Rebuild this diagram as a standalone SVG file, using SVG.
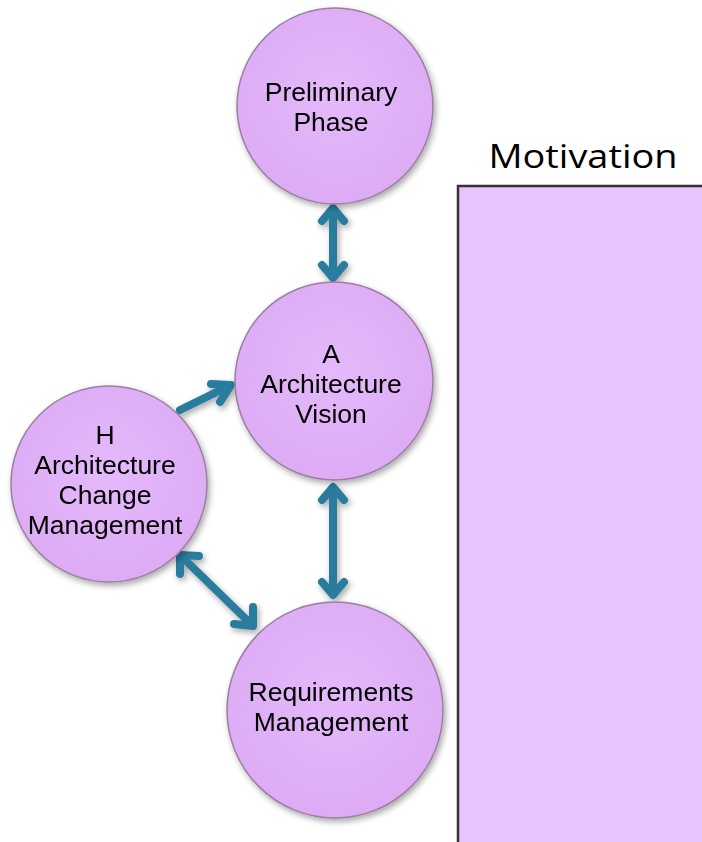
<svg xmlns="http://www.w3.org/2000/svg" width="702" height="842" viewBox="0 0 702 842">
<defs>
<radialGradient id="cg" cx="0.5" cy="0.45" r="0.6">
<stop offset="0" stop-color="#e4b9fa"/>
<stop offset="1" stop-color="#dcaaf4"/>
</radialGradient>
<filter id="sh" x="-20%" y="-20%" width="140%" height="140%">
<feGaussianBlur in="SourceAlpha" stdDeviation="3"/>
<feOffset dx="2" dy="3" result="b"/>
<feComponentTransfer><feFuncA type="linear" slope="0.35"/></feComponentTransfer>
<feMerge><feMergeNode/><feMergeNode in="SourceGraphic"/></feMerge>
</filter>
<style>
.node{fill:url(#cg);stroke:#9a7f9e;stroke-width:1.5;}
.lbl{font-family:"Liberation Sans",Arial,sans-serif;font-size:26.5px;fill:#000;text-anchor:middle;}
.con{fill:none;stroke:#2b7c9e;stroke-width:8;stroke-linecap:round;stroke-linejoin:round;}
</style>
</defs>
<rect width="702" height="842" fill="#ffffff"/>

<g id="motivation">
<text x="583" y="168" font-family="'Open Sans','Liberation Sans',sans-serif" font-size="33" fill="#000" text-anchor="middle" textLength="189" lengthAdjust="spacingAndGlyphs">Motivation</text>
<rect x="458" y="186" width="250" height="670" fill="#e8c4fe" stroke="#333" stroke-width="2.5"/>
</g>

<g id="connectors" filter="url(#sh)">
<g id="c-prelim-a">
<path class="con" d="M333 210 L333 276"/>
<path class="con" d="M322 221 L333 208 L344 221"/>
<path class="con" d="M322 265 L333 278 L344 265"/>
</g>
<g id="c-a-req">
<path class="con" d="M333 489 L333 593"/>
<path class="con" d="M322 500 L333 487 L344 500"/>
<path class="con" d="M322 582 L333 595 L344 582"/>
</g>
<g id="c-h-a">
<path class="con" d="M180 410 L229 386"/>
<path class="con" d="M211 384 L231 385 L220 402"/>
</g>
<g id="c-h-req">
<path class="con" d="M181 556 L252 625"/>
<path class="con" d="M180 574 L180 555 L199 556"/>
<path class="con" d="M234 624 L253 626 L253 607"/>
</g>
</g>

<g id="node-prelim" filter="url(#sh)">
<circle class="node" cx="335" cy="106" r="98"/>
<text class="lbl" x="331" y="101">Preliminary</text>
<text class="lbl" x="331" y="131">Phase</text>
</g>

<g id="node-a" filter="url(#sh)">
<circle class="node" cx="334" cy="381" r="99"/>
<text class="lbl" x="331" y="363">A</text>
<text class="lbl" x="331" y="393">Architecture</text>
<text class="lbl" x="331" y="423">Vision</text>
</g>

<g id="node-h" filter="url(#sh)">
<circle class="node" cx="109" cy="484" r="98"/>
<text class="lbl" x="105" y="444">H</text>
<text class="lbl" x="105" y="474">Architecture</text>
<text class="lbl" x="105" y="504">Change</text>
<text class="lbl" x="105" y="534">Management</text>
</g>

<g id="node-req" filter="url(#sh)">
<circle class="node" cx="335" cy="710" r="108"/>
<text class="lbl" x="331" y="701">Requirements</text>
<text class="lbl" x="331" y="731">Management</text>
</g>
</svg>
